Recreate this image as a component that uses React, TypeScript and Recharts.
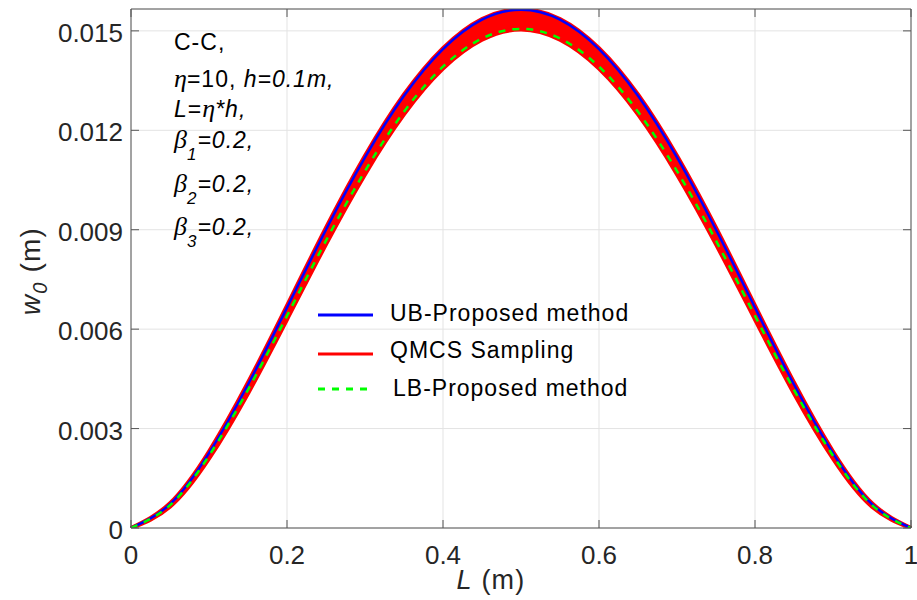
import React from "react";
import {
  ComposedChart,
  Area,
  Line,
  XAxis,
  YAxis,
  CartesianGrid,
  ReferenceLine,
} from "recharts";

// Beam length positions (normalised, m)
const positions = [
  0, 0.05, 0.1, 0.15, 0.2, 0.25, 0.3, 0.35, 0.4, 0.45, 0.5,
  0.55, 0.6, 0.65, 0.7, 0.75, 0.8, 0.85, 0.9, 0.95, 1,
];

// Upper bound deflection – proposed method
const ubDeflection = [
  0, 0.00072, 0.00226, 0.00433, 0.00665, 0.009, 0.01118, 0.01304, 0.01445, 0.01534, 0.01564,
  0.01534, 0.01445, 0.01304, 0.01118, 0.009, 0.00665, 0.00433, 0.00226, 0.00072, 0,
];

// Lower bound deflection – proposed method
const lbDeflection = [
  0, 0.00069, 0.00218, 0.00417, 0.0064, 0.00867, 0.01077, 0.01256, 0.01392, 0.01477, 0.01506,
  0.01477, 0.01392, 0.01256, 0.01077, 0.00867, 0.0064, 0.00417, 0.00218, 0.00069, 0,
];

// QMCS sampling envelope (min / max over all samples)
const qmcsMin = [
  0, 0.00064, 0.00209, 0.00406, 0.00629, 0.00856, 0.01067, 0.01248, 0.01386, 0.01473, 0.01504,
  0.01473, 0.01386, 0.01248, 0.01067, 0.00856, 0.00629, 0.00406, 0.00209, 0.00064, 0,
];
const qmcsMax = [
  0, 0.00075, 0.00231, 0.00439, 0.00671, 0.00906, 0.01123, 0.01308, 0.01448, 0.01536, 0.01565,
  0.01536, 0.01448, 0.01308, 0.01123, 0.00906, 0.00671, 0.00439, 0.00231, 0.00075, 0,
];

const xTicks = [0, 0.2, 0.4, 0.6, 0.8, 1];
const xTickLabels = ["0", "0.2", "0.4", "0.6", "0.8", "1"];
const yTicks = [0, 0.003, 0.006, 0.009, 0.012, 0.015];
const yTickLabels = ["0", "0.003", "0.006", "0.009", "0.012", "0.015"];
const yMax = 0.01566;

const seriesNames = ["UB-Proposed method", "QMCS Sampling", "LB-Proposed method"];

const data = positions.map((x, i) => ({
  x,
  ub: ubDeflection[i],
  lb: lbDeflection[i],
  band: [qmcsMin[i], qmcsMax[i]],
}));

const SANS = "'Liberation Sans', Arial, Helvetica, sans-serif";
const SERIF = "'Liberation Serif', 'Times New Roman', serif";
const TEXT = "#262626";
const AXIS = "#555555";
const TICK_LEN = 8;

// Plot box size, given by the chart margins and axis sizes below
const CHART_W = 917;
const CHART_H = 600;
const MARGIN = { top: 9, right: 6, left: 0, bottom: 0 };
const Y_AXIS_W = 131;
const X_AXIS_H = 72;
const PLOT_W = CHART_W - MARGIN.left - MARGIN.right - Y_AXIS_W;
const PLOT_H = CHART_H - MARGIN.top - MARGIN.bottom - X_AXIS_H;

const labelFor = (v: number, ticks: number[], labels: string[]) => {
  const i = ticks.findIndex((t) => Math.abs(t - v) < 1e-9);
  return i >= 0 ? labels[i] : String(v);
};

// Bottom ticks point inwards; the matching top-edge tick is drawn too
const BottomTick = (props: any) => {
  const { x, y, payload } = props;
  return (
    <g>
      <line x1={x} x2={x} y1={y} y2={y - TICK_LEN} stroke={AXIS} strokeWidth={1} />
      <line x1={x} x2={x} y1={y - PLOT_H} y2={y - PLOT_H + TICK_LEN} stroke={AXIS} strokeWidth={1} />
      <text x={x} y={y + 36} textAnchor="middle" fontFamily={SANS} fontSize={26} fill={TEXT}>
        {labelFor(payload.value, xTicks, xTickLabels)}
      </text>
    </g>
  );
};

// Left ticks point inwards; the matching right-edge tick is drawn too
const LeftTick = (props: any) => {
  const { x, y, payload } = props;
  const axisX = x + 8;
  return (
    <g>
      <line x1={axisX} x2={axisX + TICK_LEN} y1={y} y2={y} stroke={AXIS} strokeWidth={1} />
      <line x1={axisX + PLOT_W} x2={axisX + PLOT_W - TICK_LEN} y1={y} y2={y} stroke={AXIS} strokeWidth={1} />
      <text x={x} y={y + 11} textAnchor="end" fontFamily={SANS} fontSize={26} fill={TEXT}>
        {labelFor(payload.value, yTicks, yTickLabels)}
      </text>
    </g>
  );
};

const Annotation = () => {
  const base = { fontFamily: SANS, fontSize: 23, fill: "#000", letterSpacing: 1.0 } as const;
  const greek = { fontFamily: SERIF, fontStyle: "italic", fontSize: 26, letterSpacing: 0 } as const;
  const betaLine = (idx: string, y: number) => (
    <text x={174} y={y} {...base} fontStyle="italic">
      <tspan {...greek}>β</tspan>
      <tspan fontSize={17} dy={12}>{idx}</tspan>
      <tspan dy={-12}>=0.2,</tspan>
    </text>
  );
  return (
    <g>
      <text x={174} y={50} {...base}>C-C,</text>
      <text x={174} y={87} {...base}>
        <tspan {...greek}>η</tspan>
        <tspan>=10, </tspan>
        <tspan fontStyle="italic">h=0.1m,</tspan>
      </text>
      <text x={174} y={117} {...base}>
        <tspan fontStyle="italic">L</tspan>
        <tspan>=</tspan>
        <tspan {...greek}>η</tspan>
        <tspan fontStyle="italic">*h,</tspan>
      </text>
      {betaLine("1", 148)}
      {betaLine("2", 192)}
      {betaLine("3", 235)}
    </g>
  );
};

const LegendBox = () => {
  const txt = { fontFamily: SANS, fontSize: 23, fill: "#000", letterSpacing: 1.0 } as const;
  return (
    <g>
      <line x1={318} x2={373} y1={315} y2={315} stroke="#0000ff" strokeWidth={3} />
      <text x={390} y={321} {...txt}>{seriesNames[0]}</text>
      <line x1={318} x2={373} y1={354} y2={354} stroke="#ff0000" strokeWidth={3} />
      <text x={390} y={358} {...txt}>{seriesNames[1]}</text>
      <line x1={318} x2={373} y1={389} y2={389} stroke="#00ff00" strokeWidth={3} strokeDasharray="7 7" />
      <text x={393} y={396} {...txt}>{seriesNames[2]}</text>
    </g>
  );
};

const AxisTitles = () => (
  <g>
    <text x={491} y={589} textAnchor="middle" fontFamily={SANS} fontSize={27} fill={TEXT} letterSpacing={1.2}>
      <tspan fontStyle="italic">L</tspan>
      <tspan> (m)</tspan>
    </text>
    <text
      transform="translate(40,271) rotate(-90)"
      textAnchor="middle"
      fontFamily={SANS}
      fontSize={28}
      fill={TEXT}
      letterSpacing={1.2}
    >
      <tspan fontStyle="italic">w</tspan>
      <tspan fontStyle="italic" fontSize={20} dy={7}>0</tspan>
      <tspan dy={-7}> (m)</tspan>
    </text>
  </g>
);

export default function App() {
  return (
    <div style={{ position: "absolute", left: 0, top: 0, width: CHART_W, height: CHART_H, background: "#fff" }}>
      <ComposedChart width={CHART_W} height={CHART_H} data={data} margin={MARGIN}>
        <CartesianGrid stroke="#e3e3e3" strokeWidth={1} />
        <XAxis
          dataKey="x"
          type="number"
          domain={[0, 1]}
          ticks={xTicks}
          height={X_AXIS_H}
          tickSize={0}
          tickMargin={0}
          tickLine={false}
          axisLine={{ stroke: AXIS }}
          tick={<BottomTick />}
          interval={0}
        />
        <YAxis
          type="number"
          domain={[0, yMax]}
          ticks={yTicks}
          width={Y_AXIS_W}
          tickSize={0}
          tickMargin={8}
          tickLine={false}
          axisLine={{ stroke: AXIS }}
          tick={<LeftTick />}
          allowDataOverflow
          interval={0}
        />
        <Area
          dataKey="band"
          type="natural"
          fill="#ff0000"
          fillOpacity={1}
          stroke="#ff0000"
          strokeWidth={4}
          isAnimationActive={false}
          name={seriesNames[1]}
        />
        <Line
          dataKey="ub"
          type="natural"
          stroke="#0000ff"
          strokeWidth={2.5}
          dot={false}
          isAnimationActive={false}
          name={seriesNames[0]}
        />
        <Line
          dataKey="lb"
          type="natural"
          stroke="#00ff00"
          strokeWidth={2.5}
          strokeDasharray="7 7"
          dot={false}
          isAnimationActive={false}
          name={seriesNames[2]}
        />
        {/* box frame along the top and right edges */}
        <ReferenceLine y={yMax} stroke={AXIS} strokeWidth={1} />
        <ReferenceLine x={1} stroke={AXIS} strokeWidth={1} />
      </ComposedChart>
      <svg
        width={CHART_W}
        height={CHART_H}
        style={{ position: "absolute", left: 0, top: 0, pointerEvents: "none" }}
      >
        <Annotation />
        <LegendBox />
        <AxisTitles />
      </svg>
    </div>
  );
}
